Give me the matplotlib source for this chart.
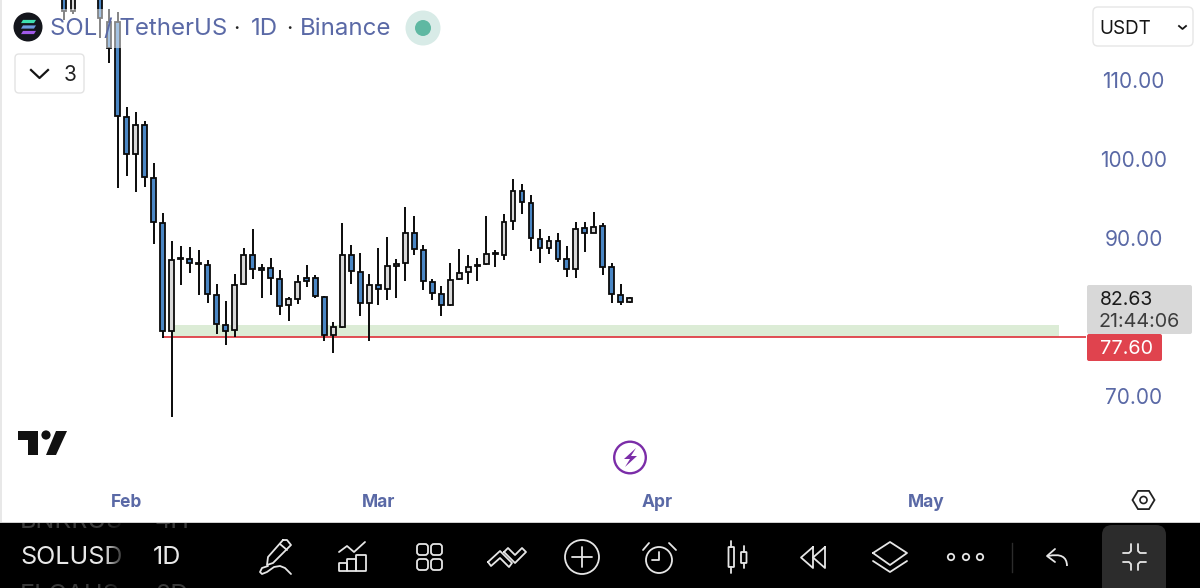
import matplotlib
matplotlib.use("Agg")
import matplotlib.pyplot as plt
from matplotlib.patches import Rectangle, FancyBboxPatch, Circle, Polygon, PathPatch
from matplotlib.path import Path
from matplotlib.colors import LinearSegmentedColormap
import numpy as np

plt.rcParams['font.family'] = ['Inter', 'Roboto', 'DejaVu Sans']

# Daily candles: day offset from 1 Feb
days = [-7, -6, -3, -2, -1, 0, 1, 2, 3, 4, 5, 6, 7, 8, 9, 10, 11, 12, 13, 14, 15, 16, 17, 18, 19, 20, 21, 22, 23, 24,
        25, 26, 27, 28, 29, 30, 31, 32, 33, 34, 35, 36, 37, 38, 39, 40, 41, 42, 43, 44, 45, 46, 47, 48, 49, 50, 51, 52, 53, 54, 55, 56]
opens = [121.30, 118.86, 120.90, 117.47, 117.47, 105.44, 100.76, 104.43, 97.72, 92.02, 78.35, 87.47, 87.47, 86.96, 86.71, 82.91, 79.11, 78.48, 84.30, 87.97,
         86.33, 86.33, 84.93, 81.64, 82.40, 85.06, 85.06, 82.66, 77.85, 78.86, 87.97, 85.82, 81.90, 84.17, 83.67, 86.58, 86.96, 90.76, 88.61, 84.55,
         83.04, 81.64, 84.93, 85.82, 86.58, 86.83, 88.10, 87.97, 92.27, 96.07, 94.55, 89.99, 88.86, 89.74, 87.47, 86.20, 91.39, 90.76, 91.64, 86.45, 82.91, 82.02]
highs = [121.80, 121.60, 121.50, 119.11, 118.73, 106.71, 106.07, 104.93, 99.62, 93.29, 89.74, 89.11, 88.98, 88.61, 87.34, 84.30, 82.15, 85.57, 88.86, 91.26,
         86.83, 87.59, 86.07, 82.66, 85.44, 86.71, 85.44, 82.78, 79.49, 92.02, 89.24, 88.23, 85.57, 88.86, 90.25, 87.47, 94.05, 92.91, 89.24, 84.93,
         84.05, 86.96, 88.73, 87.97, 87.59, 92.91, 88.61, 93.16, 97.59, 96.96, 95.57, 91.26, 90.38, 90.76, 89.11, 92.15, 92.15, 93.42, 92.02, 86.96, 84.30, 82.66]
lows = [117.72, 118.48, 115.44, 112.28, 96.45, 97.97, 95.95, 96.58, 89.36, 77.47, 67.46, 84.17, 85.69, 82.91, 81.90, 77.97, 76.58, 77.59, 84.20, 84.93,
        82.53, 82.91, 80.38, 79.62, 81.77, 83.92, 82.53, 77.09, 75.57, 78.70, 84.30, 80.25, 77.09, 81.64, 82.28, 82.53, 84.68, 87.97, 83.54, 82.28,
        80.25, 81.52, 84.85, 84.30, 84.68, 86.71, 86.45, 87.34, 91.14, 93.16, 88.48, 86.96, 88.10, 87.09, 85.19, 85.06, 88.35, 90.70, 85.44, 81.90, 81.64, 81.90]
closes = [118.86, 121.00, 117.97, 114.17, 105.57, 100.76, 104.43, 97.84, 92.15, 78.35, 87.34, 87.59, 86.96, 86.83, 83.04, 79.24, 78.35, 84.17, 87.97, 86.20,
          86.07, 85.06, 81.52, 82.40, 84.55, 84.68, 82.78, 77.85, 78.86, 87.97, 85.95, 81.90, 84.17, 83.67, 86.58, 86.83, 90.76, 88.73, 84.68, 83.16,
          81.64, 84.81, 85.69, 86.45, 86.71, 88.10, 88.23, 92.15, 96.07, 94.68, 90.12, 88.86, 89.74, 87.47, 86.20, 91.26, 90.76, 91.52, 86.45, 83.04, 82.02, 82.53]

price_ticks = [110, 100, 90, 70]
month_ticks = [0, 28, 59, 89]
month_labels = ['Feb', 'Mar', 'Apr', 'May']
zone_low, support, last_price = 77.60, 77.60, 82.63
zone_high = 79.10
countdown = '21:44:06'

BLUE = '#4a86c4'
GREY = '#d9d9d9'
INK = '#5a69a6'
LINE = '#e6e6e6'

W, H = 1200, 588
X0 = 126.9
fig = plt.figure(figsize=(12, 5.88), dpi=100, facecolor='white')

ax = fig.add_axes([0, 0, 1, 1])
ax.set_xlim(-X0 / 8.98, (W - X0) / 8.98)
ax.set_ylim(120.25 - H / 7.9, 120.25)
ax.axis('off')


def x_of(px):
    return (px - X0) / 8.98


# support zone and line
ax.add_patch(Rectangle((x_of(172), zone_low), x_of(1059) - x_of(172), zone_high - zone_low,
                       fc='#dcecd6', ec='none', zorder=1))
ax.plot([x_of(162), x_of(1086)], [support, support], color='#df3f46', lw=1.3, zorder=2, solid_capstyle='butt')

# candles
for d, o, h, l, c in zip(days, opens, highs, lows, closes):
    ax.plot([d, d], [l, h], color='#0a0a0a', lw=1.4, zorder=3, solid_capstyle='butt')
    ax.bar(d, abs(c - o), bottom=min(o, c), width=0.54, color=GREY if c >= o else BLUE,
           edgecolor='#0a0a0a', linewidth=1.3, zorder=4)

# chrome overlay in pixel coordinates
ov = fig.add_axes([0, 0, 1, 1], zorder=5)
ov.set_xlim(0, W)
ov.set_ylim(H, 0)
ov.axis('off')
ov.patch.set_alpha(0)

# left screen edge
ov.add_patch(Rectangle((0, 0), 1.5, 522, fc='#e8e8e8', ec='none'))

# legend veil
ov.add_patch(Rectangle((48, 9), 392, 39, fc='white', ec='none', alpha=0.5, zorder=1))

# solana logo
ov.add_patch(Circle((28, 27), 14.5, fc='#14161c', ec='none', zorder=3))
for yy, col in zip([21.5, 27, 32.5], ['#3fe0b0', '#6f9be0', '#a05ae8']):
    ov.add_patch(Polygon([[21, yy + 1.6], [23, yy - 1.6], [36, yy - 1.6], [34, yy + 1.6]], fc=col, ec='none', zorder=4))

ov.text(50, 29, 'SOL / TetherUS', color=INK, fontsize=17.3, va='center', ha='left', zorder=5)
ov.text(236, 29, '·', color='#222222', fontsize=16, va='center', ha='center', zorder=5)
ov.text(251, 29, '1D', color=INK, fontsize=17.3, va='center', ha='left', zorder=5)
ov.text(289, 29, '·', color='#222222', fontsize=16, va='center', ha='center', zorder=5)
ov.text(300, 29, 'Binance', color=INK, fontsize=17.3, va='center', ha='left', zorder=5)
ov.add_patch(Circle((423, 28), 17.5, fc='#d8ebe7', ec='none', zorder=3))
ov.add_patch(Circle((423, 28), 8, fc='#5fb8a2', ec='none', zorder=4))

# indicator collapse box
ov.add_patch(FancyBboxPatch((15, 54), 69, 39, boxstyle='round,pad=0,rounding_size=4', fc='white', ec='#e3e3e3', lw=1))
ov.plot([31, 39.5, 48], [70, 78, 70], color='#151515', lw=1.6)
ov.text(70, 75, '3', color='#222222', fontsize=15, ha='center', va='center')

# currency box
ov.add_patch(FancyBboxPatch((1093, 7), 100, 39, boxstyle='round,pad=0,rounding_size=5', fc='white', ec='#e6e6e6', lw=1))
ov.text(1099, 28.5, 'USDT', color='#151515', fontsize=13.6, ha='left', va='center')
ov.plot([1179, 1182.5, 1186], [26, 29, 26], color='#151515', lw=1.3)

# price axis
for p in price_ticks:
    ov.text(1133.5, (120.25 - p) * 7.9 + 1.5, f'{p:.2f}', color=INK, fontsize=15, ha='center', va='center')

# price labels
ov.add_patch(FancyBboxPatch((1087, 285), 105, 49, boxstyle='round,pad=0,rounding_size=2', fc='#d8d8d8', ec='none', zorder=2))
ov.text(1100, 300, f'{last_price:.2f}', color='#1a1a1a', fontsize=14, ha='left', va='center', zorder=3)
ov.text(1099, 322, countdown, color='#3d3d3d', fontsize=14.2, ha='left', va='center', zorder=3)
ov.add_patch(FancyBboxPatch((1087, 334), 75, 27, boxstyle='round,pad=0,rounding_size=2', fc='#e0434e', ec='none', zorder=2))
ov.text(1100, 349.5, f'{support:.2f}', color='white', fontsize=14.3, ha='left', va='center', zorder=3)

# month axis
for d, m in zip(month_ticks, month_labels):
    ov.text(X0 + d * 8.98, 502.5, m, color=INK, fontsize=12.5, fontweight='bold', ha='center', va='center')

# TradingView logo
ov.add_patch(Polygon([[18, 431], [38, 431], [38, 455], [28, 455], [28, 440], [18, 440]], fc='#111111', ec='none'))
ov.add_patch(Circle((46, 435), 4.6, fc='#111111', ec='none'))
ov.add_patch(Polygon([[56, 431], [67, 431], [56, 455], [46, 455]], fc='#111111', ec='none'))

# lightning badge
ov.add_patch(Circle((630, 457.5), 15.8, fc='white', ec='#7b2da8', lw=1.7))
ov.add_patch(Polygon([[636, 448], [624, 459], [630, 459], [625, 467], [637, 456], [631, 456]], fc='#7b2da8', ec='none'))

# settings hexagon
a = np.deg2rad(np.arange(0, 360, 60))
ov.add_patch(Polygon(np.c_[1143.5 + 11 * np.cos(a), 500 + 10.5 * np.sin(a)], closed=True, fc='none', ec='#222222', lw=1.3))
ov.add_patch(Circle((1143.5, 500), 3.5, fc='none', ec='#222222', lw=1.2))

# ---------- dark toolbar ----------
ov.add_patch(Rectangle((0, 521.5), W, 1.2, fc='#cfcfcf', ec='none', zorder=1))
bar = Rectangle((0, 522.5), W, H - 522.5, fc='black', ec='none', zorder=1)
ov.add_patch(bar)
for tx, ty, s, col in [(20, 521, 'BNKRUS', '#3a3a3a'), (155, 521, '4H', '#3a3a3a'),
                       (20, 558, 'SOLUSD', '#e8e8e8'), (153, 558, '1D', '#e8e8e8'),
                       (20, 595, 'ELCAUS', '#3a3a3a'), (155, 595, '2D', '#3a3a3a')]:
    t = ov.text(tx, ty, s, color=col, fontsize=18, ha='left', va='center', zorder=2, clip_on=True)
    t.set_clip_path(bar)
grad = LinearSegmentedColormap.from_list('fade', [(0, 0, 0, 0), (0, 0, 0, 1)])
ov.imshow(np.linspace(0, 1, 30).reshape(1, -1), cmap=grad, extent=(104, 127, 588, 523), aspect='auto', zorder=3, vmin=0, vmax=1)
ov.set_xlim(0, W)
ov.set_ylim(H, 0)

ic = dict(color=LINE, lw=1.3, zorder=4, solid_capstyle='round', solid_joinstyle='round')


def box(x, y, w, h, r=0.5):
    ov.add_patch(FancyBboxPatch((x, y), w, h, boxstyle=f'round,pad=0,rounding_size={r}', fc='none', ec=LINE, lw=1.3, zorder=4))


# pen
ov.plot([283, 287, 291, 273, 267, 268, 283], [540, 540, 545, 563, 565, 557, 540], **ic)
ov.plot([280, 287], [544, 550], **ic)
ov.plot([268, 262, 260, 262, 267, 274, 280, 285, 291], [566, 568, 572, 574, 572, 567, 566, 568, 574], **ic)
# chart bars
ov.plot([339, 347, 354, 365], [552, 546, 552, 542], **ic)
box(339, 563, 8, 8); box(347, 559, 9, 12); box(356, 555, 10, 16)
# grid
for xx in [417, 431]:
    for yy in [544, 559]:
        box(xx, yy, 11, 11, 3)
# strategy arrows
ov.plot([488, 500, 512, 509, 500, 491, 488], [562, 551, 563, 567, 558, 566, 562], **ic)
ov.plot([504, 508, 515, 522, 526, 515, 504], [552, 548, 555, 548, 552, 563, 552], **ic)
# plus
ov.add_patch(Circle((582, 557), 17, fc='none', ec=LINE, lw=1.3, zorder=4))
ov.plot([572, 592], [557, 557], **ic)
ov.plot([582, 582], [547, 567], **ic)
# alarm
ov.add_patch(Circle((659, 560), 13, fc='none', ec=LINE, lw=1.3, zorder=4))
ov.plot([659, 659, 652], [552, 560, 560], **ic)
ov.plot([643, 649], [550, 543], **ic)
ov.plot([669, 676], [543, 550], **ic)
# candles icon
box(728.5, 547, 5.5, 20); box(741, 552, 5.5, 11)
ov.plot([731.2, 731.2], [541, 547], **ic); ov.plot([731.2, 731.2], [567, 573], **ic)
ov.plot([743.7, 743.7], [546, 552], **ic); ov.plot([743.7, 743.7], [563, 568], **ic)
# rewind
ov.plot([813, 801, 813, 813], [547, 557.5, 568, 547], **ic)
ov.plot([825, 813, 825, 825], [547, 557.5, 568, 547], **ic)
# layers
ov.plot([873, 890, 907, 890, 873], [553, 542, 553, 565, 553], **ic)
ov.plot([873, 890, 907], [561, 572, 561], **ic)
# dots
for xx in [951, 966, 980]:
    ov.add_patch(Circle((xx, 557), 3.2, fc='none', ec=LINE, lw=1.3, zorder=4))
# separator
ov.plot([1012, 1012], [543, 572], color='#2c2c2c', lw=1, zorder=4)
# undo
ov.add_patch(PathPatch(Path([(1048, 556), (1067, 552), (1067, 566)], [Path.MOVETO, Path.CURVE3, Path.CURVE3]),
                       fc='none', ec=LINE, lw=1.3, zorder=4))
ov.plot([1055, 1047, 1055], [549, 556, 562], **ic)
# collapse button
ov.add_patch(FancyBboxPatch((1102, 525), 64, 75, boxstyle='round,pad=0,rounding_size=10', fc='#2c2c2c', ec='none', zorder=3))
ov.plot([1123, 1129, 1131, 1131], [553, 553, 551, 544], **ic)
ov.plot([1146, 1140, 1138, 1138], [553, 553, 551, 544], **ic)
ov.plot([1123, 1129, 1131, 1131], [562, 562, 564, 570], **ic)
ov.plot([1146, 1140, 1138, 1138], [562, 562, 564, 570], **ic)

fig.savefig('out.png', dpi=100, facecolor='white')
